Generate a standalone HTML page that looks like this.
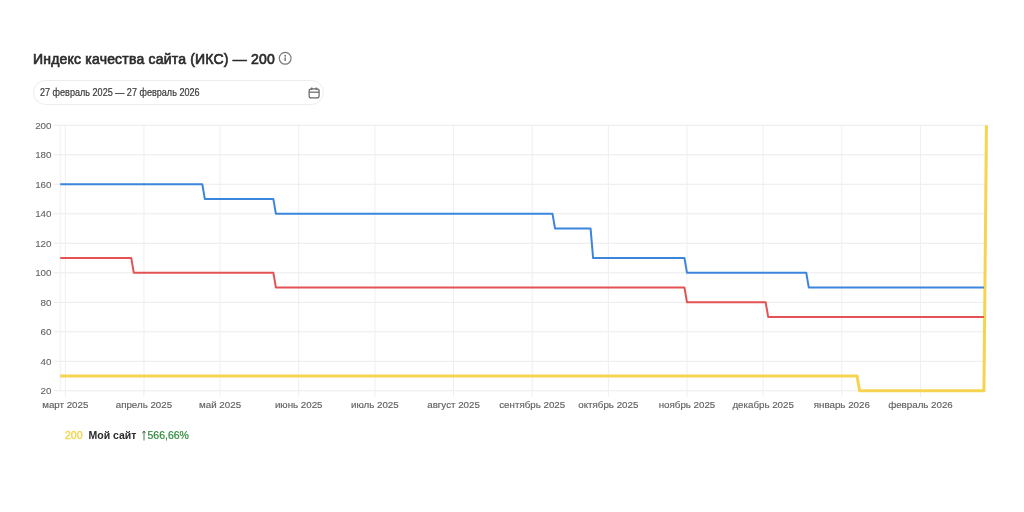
<!DOCTYPE html>
<html><head><meta charset="utf-8">
<style>
html,body{margin:0;padding:0;background:#fff;width:1024px;height:512px;overflow:hidden;}
body{position:relative;font-family:"Liberation Sans",sans-serif;filter:blur(0.45px);}
.title{position:absolute;left:33px;top:50px;font-size:14px;font-weight:normal;color:#2b2b2b;letter-spacing:0.2px;-webkit-text-stroke:0.65px #2b2b2b;white-space:nowrap;line-height:18px;}
.info{position:absolute;left:279px;top:52px;width:10px;height:10px;border:1.2px solid #888;border-radius:50%;}
.pill{position:absolute;left:33px;top:80px;width:289px;height:22.5px;border:1.2px solid #ededed;border-radius:13px;}
.date{position:absolute;left:40px;top:87px;font-size:10px;color:#3a3a3a;-webkit-text-stroke:0.2px #3a3a3a;white-space:nowrap;line-height:12px;transform:scaleX(0.907);transform-origin:0 0;}
svg{position:absolute;left:0;top:0;}
.ic{position:absolute;}
.legend{position:absolute;left:65px;top:429px;font-size:10.5px;white-space:nowrap;line-height:12px;}
.legend span,.legend b{display:inline-block;}
</style></head><body>
<div class="title">Индекс качества сайта (ИКС) — 200</div>
<svg class="ic" style="left:278px;top:51px" width="14" height="14" viewBox="0 0 14 14"><circle cx="7.2" cy="7.3" r="5.9" fill="none" stroke="#7a7a7a" stroke-width="1.2"/><circle cx="7.2" cy="4.7" r="0.95" fill="#7a7a7a"/><rect x="6.45" y="6.3" width="1.5" height="3.7" fill="#7a7a7a"/></svg>
<div class="pill"></div>
<svg class="ic" style="left:306px;top:85px" width="16" height="16" viewBox="0 0 16 16"><rect x="3.1" y="3.8" width="10" height="9.1" rx="2.2" fill="none" stroke="#666" stroke-width="1.2"/><line x1="3.1" y1="7.2" x2="13.1" y2="7.2" stroke="#666" stroke-width="1.2"/><line x1="5.8" y1="2.9" x2="5.8" y2="4.6" stroke="#666" stroke-width="1.2" stroke-linecap="round"/><line x1="10.2" y1="2.9" x2="10.2" y2="4.6" stroke="#666" stroke-width="1.2" stroke-linecap="round"/></svg>
<div class="date">27 февраль 2025 — 27 февраль 2026</div>
<svg width="1024" height="512" viewBox="0 0 1024 512">
<g stroke="#ececec" stroke-width="1" fill="none">
<line x1="53.5" y1="390.80" x2="987" y2="390.80"/><line x1="53.5" y1="361.30" x2="987" y2="361.30"/><line x1="53.5" y1="331.80" x2="987" y2="331.80"/><line x1="53.5" y1="302.30" x2="987" y2="302.30"/><line x1="53.5" y1="272.80" x2="987" y2="272.80"/><line x1="53.5" y1="243.30" x2="987" y2="243.30"/><line x1="53.5" y1="213.80" x2="987" y2="213.80"/><line x1="53.5" y1="184.30" x2="987" y2="184.30"/><line x1="53.5" y1="154.80" x2="987" y2="154.80"/><line x1="53.5" y1="125.30" x2="987" y2="125.30"/>
</g>
<g stroke="#efefef" stroke-width="1" fill="none">
<line x1="60.2" y1="125" x2="60.2" y2="391"/><line x1="65.28" y1="125" x2="65.28" y2="397"/><line x1="143.94" y1="125" x2="143.94" y2="397"/><line x1="220.08" y1="125" x2="220.08" y2="397"/><line x1="298.74" y1="125" x2="298.74" y2="397"/><line x1="374.87" y1="125" x2="374.87" y2="397"/><line x1="453.54" y1="125" x2="453.54" y2="397"/><line x1="532.21" y1="125" x2="532.21" y2="397"/><line x1="608.34" y1="125" x2="608.34" y2="397"/><line x1="687.01" y1="125" x2="687.01" y2="397"/><line x1="763.14" y1="125" x2="763.14" y2="397"/><line x1="841.81" y1="125" x2="841.81" y2="397"/><line x1="920.48" y1="125" x2="920.48" y2="397"/>
</g>
<g font-family="Liberation Sans, sans-serif" font-size="9.8" fill="#636363" stroke="#636363" stroke-width="0.1">
<text x="51.5" y="394.30" text-anchor="end">20</text><text x="51.5" y="364.80" text-anchor="end">40</text><text x="51.5" y="335.30" text-anchor="end">60</text><text x="51.5" y="305.80" text-anchor="end">80</text><text x="51.5" y="276.30" text-anchor="end">100</text><text x="51.5" y="246.80" text-anchor="end">120</text><text x="51.5" y="217.30" text-anchor="end">140</text><text x="51.5" y="187.80" text-anchor="end">160</text><text x="51.5" y="158.30" text-anchor="end">180</text><text x="51.5" y="128.80" text-anchor="end">200</text>
</g>
<g font-family="Liberation Sans, sans-serif" font-size="9.75" fill="#616161" stroke="#616161" stroke-width="0.15">
<text x="65.28" y="408" text-anchor="middle">март 2025</text><text x="143.94" y="408" text-anchor="middle">апрель 2025</text><text x="220.08" y="408" text-anchor="middle">май 2025</text><text x="298.74" y="408" text-anchor="middle">июнь 2025</text><text x="374.87" y="408" text-anchor="middle">июль 2025</text><text x="453.54" y="408" text-anchor="middle">август 2025</text><text x="532.21" y="408" text-anchor="middle">сентябрь 2025</text><text x="608.34" y="408" text-anchor="middle">октябрь 2025</text><text x="687.01" y="408" text-anchor="middle">ноябрь 2025</text><text x="763.14" y="408" text-anchor="middle">декабрь 2025</text><text x="841.81" y="408" text-anchor="middle">январь 2026</text><text x="920.48" y="408" text-anchor="middle">февраль 2026</text>
</g>
<path d="M60.20,376.05 L857.04,376.05 L859.58,390.80 L983.92,390.80 L986.46,125.30" stroke="#f7d450" stroke-width="3" fill="none" stroke-linejoin="round"/>
<path d="M60.20,258.05 L131.26,258.05 L133.79,272.80 L273.37,272.80 L275.90,287.55 L684.47,287.55 L687.01,302.30 L765.68,302.30 L768.22,317.05 L983.92,317.05" stroke="#e45254" stroke-width="2" fill="none" stroke-linejoin="round"/>
<path d="M60.20,184.30 L202.31,184.30 L204.85,199.05 L273.37,199.05 L275.90,213.80 L552.51,213.80 L555.05,228.55 L590.58,228.55 L593.12,258.05 L684.47,258.05 L687.01,272.80 L806.28,272.80 L808.82,287.55 L983.92,287.55" stroke="#3c85dc" stroke-width="2" fill="none" stroke-linejoin="round"/>
</svg>
<div class="legend"><span style="color:#f2d855;-webkit-text-stroke:0.45px #f2d855">200</span><b style="color:#2b2b2b;margin-left:6px">Мой сайт</b><svg style="position:relative;display:inline-block;vertical-align:top;margin-left:6px;margin-top:1px" width="4" height="11" viewBox="0 0 4 11"><path d="M2,10.5 V1.2 M0.4,3.2 L2,1 L3.6,3.2" stroke="#35663d" stroke-width="0.9" fill="none"/></svg><span style="color:#308a3c;margin-left:1px;-webkit-text-stroke:0.2px #308a3c">566,66%</span></div>
</body></html>
